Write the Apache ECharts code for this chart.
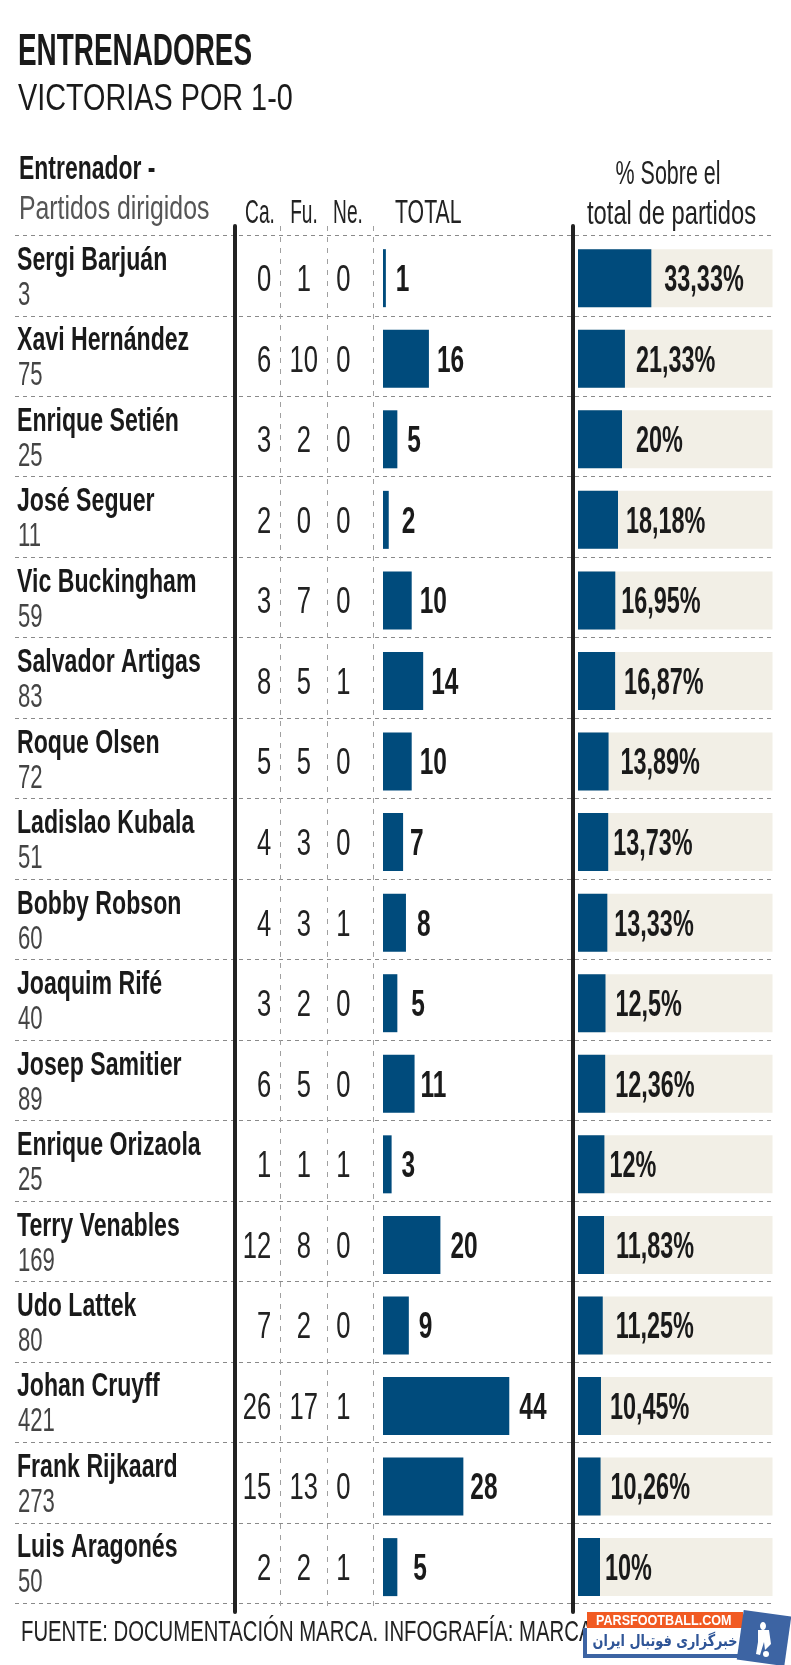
<!DOCTYPE html>
<html>
<head>
<meta charset="utf-8">
<title>Entrenadores - Victorias por 1-0</title>
<script src="https://cdn.jsdelivr.net/npm/echarts@6/dist/echarts.min.js"></script>
<style>
    html, body { margin: 0; padding: 0; background: #fff; }
    #grafiek { width: 791px; height: 1665px; }
</style>
</head>
<body>
<div id="grafiek"></div>
<script>
const entrenadores = ['Sergi Barjuán', 'Xavi Hernández', 'Enrique Setién', 'José Seguer', 'Vic Buckingham', 'Salvador Artigas', 'Roque Olsen', 'Ladislao Kubala', 'Bobby Robson', 'Joaquim Rifé', 'Josep Samitier', 'Enrique Orizaola', 'Terry Venables', 'Udo Lattek', 'Johan Cruyff', 'Frank Rijkaard', 'Luis Aragonés'];
const partidos = [3, 75, 25, 11, 59, 83, 72, 51, 60, 40, 89, 25, 169, 80, 421, 273, 50];
const columnas = ['Ca.', 'Fu.', 'Ne.'];
const casa = [0, 6, 3, 2, 3, 8, 5, 4, 4, 3, 6, 1, 12, 7, 26, 15, 2];
const fuera = [1, 10, 2, 0, 7, 5, 5, 3, 3, 2, 5, 1, 8, 2, 17, 13, 2];
const neutral = [0, 0, 0, 0, 0, 1, 0, 0, 1, 0, 0, 1, 0, 0, 1, 0, 1];
const total = [1, 16, 5, 2, 10, 14, 10, 7, 8, 5, 11, 3, 20, 9, 44, 28, 5];
const porcentaje = [33.33, 21.33, 20, 18.18, 16.95, 16.87, 13.89, 13.73, 13.33, 12.5, 12.36, 12, 11.83, 11.25, 10.45, 10.26, 10];

// distance between bar end and its label, the original is set by hand
const gapTotal = [10, 8, 10, 13, 8, 8, 8, 7, 11, 14, 6, 10, 10, 10, 10, 7, 16];
const gapPct = [13, 11, 14, 8, 6, 9, 12, 5, 7, 10, 10, 5, 12, 13, 9, 10, 5];

const AZUL = '#004b7c';
const CREMA = '#f2efe6';
const NEGRO = '#222';
const FONT = '"Liberation Sans"';

// the original font is very condensed, so every text is squeezed with scaleX
function texto(x, y, text, size, scaleX, weight, fill, align) {
    return {
        type: 'text',
        x: x,
        y: y,
        scaleX: scaleX,
        silent: true,
        style: {
            text: text,
            fontFamily: FONT,
            fontSize: size,
            fontWeight: weight || 'normal',
            fill: fill || NEGRO,
            align: align || 'left',
            verticalAlign: 'middle'
        }
    };
}

function serieTexto(grid, renderItem) {
    return {
        type: 'custom',
        xAxisIndex: grid,
        yAxisIndex: grid,
        silent: true,
        z: 5,
        data: entrenadores.map((n, i) => [0, i]),
        renderItem: renderItem
    };
}

function filaEje(grid) {
    return { type: 'category', gridIndex: grid, inverse: true, data: entrenadores, show: false };
}

function valorEje(grid, max) {
    return { type: 'value', gridIndex: grid, min: 0, max: max, show: false };
}

const lineaNegra = { show: true, lineStyle: { color: NEGRO, width: 4 } };
const raya = { color: '#8a8a8a', width: 1, type: [4, 4] };

let grafiek = echarts.init(document.getElementById('grafiek'));
let option = {
    backgroundColor: '#fff',
    animation: false,
    grid: [
        { left: 15, top: 235.3, width: 757, height: 1368 },      // rows + names
        { left: 234.6, top: 226, width: 138.4, height: 1386 },   // column rules
        { left: 572.6, top: 226, width: 200, height: 1386 },     // second thick rule
        { left: 234.6, top: 237.9, width: 138.4, height: 1369.5 }, // Ca. Fu. Ne.
        { left: 383, top: 237.9, width: 172.2, height: 1369.5 }, // total bars
        { left: 578, top: 237.9, width: 194.5, height: 1369.5 }  // % bars
    ],
    xAxis: [
        { type: 'value', gridIndex: 0, min: 0, max: 1, show: false },
        {
            type: 'category', gridIndex: 1, data: columnas,
            axisLine: { show: false }, axisTick: { show: false }, axisLabel: { show: false },
            splitLine: { show: true, showMinLine: false, lineStyle: { color: '#a0a0a0', width: 1, type: [5, 6] } }
        },
        valorEje(2, 1),
        { type: 'category', gridIndex: 3, data: columnas, show: false },
        valorEje(4, 60),
        valorEje(5, 88.4)
    ],
    yAxis: [
        {
            type: 'category', gridIndex: 0, inverse: true, data: entrenadores,
            axisLine: { show: false }, axisTick: { show: false }, axisLabel: { show: false },
            splitArea: { show: false },
            splitLine: { show: true, lineStyle: raya }
        },
        {
            type: 'value', gridIndex: 1, min: 0, max: 1, axisLine: lineaNegra,
            axisTick: { show: false }, axisLabel: { show: false }, splitLine: { show: false }, z: 6
        },
        {
            type: 'value', gridIndex: 2, min: 0, max: 1, axisLine: lineaNegra,
            axisTick: { show: false }, axisLabel: { show: false }, splitLine: { show: false }, z: 6
        },
        filaEje(3),
        filaEje(4),
        filaEje(5)
    ],
    series: [
        // dummy series so the rule grids get drawn
        { type: 'line', xAxisIndex: 1, yAxisIndex: 1, data: [], silent: true },
        { type: 'line', xAxisIndex: 2, yAxisIndex: 2, data: [], silent: true },
        {
            name: 'Total',
            type: 'bar',
            xAxisIndex: 4,
            yAxisIndex: 4,
            barWidth: 58,
            silent: true,
            itemStyle: { color: AZUL },
            data: total
        },
        {
            name: '% sobre el total de partidos',
            type: 'bar',
            xAxisIndex: 5,
            yAxisIndex: 5,
            barWidth: 58,
            silent: true,
            itemStyle: { color: AZUL },
            showBackground: true,
            backgroundStyle: { color: CREMA },
            data: porcentaje
        },
        // names and matches
        serieTexto(0, function (params, api) {
            let i = params.dataIndex;
            let p = api.coord([0, i]);
            return {
                type: 'group',
                children: [
                    texto(p[0] + 2, p[1] - 15, entrenadores[i], 34, 0.68, 'bold', '#1a1a1a'),
                    texto(p[0] + 3, p[1] + 20, String(partidos[i]), 34, 0.65, 'normal', '#444')
                ]
            };
        }),
        // Ca. Fu. Ne.
        serieTexto(3, function (params, api) {
            let i = params.dataIndex;
            let a = api.coord([0, i]);
            let b = api.coord([1, i]);
            let c = api.coord([2, i]);
            return {
                type: 'group',
                children: [
                    texto(a[0] + 13.5, a[1] + 3, String(casa[i]), 36, 0.71, 'normal', NEGRO, 'right'),
                    texto(b[0], b[1] + 3, String(fuera[i]), 36, 0.71, 'normal', NEGRO, 'center'),
                    texto(c[0] - 6.5, c[1] + 3, String(neutral[i]), 36, 0.71, 'normal', NEGRO, 'center')
                ]
            };
        }),
        // total label
        serieTexto(4, function (params, api) {
            let i = params.dataIndex;
            let p = api.coord([total[i], i]);
            return texto(p[0] + gapTotal[i], p[1] + 3, String(total[i]), 36, 0.68, 'bold', '#1a1a1a');
        }),
        // % label
        serieTexto(5, function (params, api) {
            let i = params.dataIndex;
            let p = api.coord([porcentaje[i], i]);
            let t = String(porcentaje[i]).replace('.', ',') + '%';
            return texto(p[0] + gapPct[i], p[1] + 3, t, 36, 0.65, 'bold', '#1a1a1a');
        })
    ],
    graphic: [
        texto(18, 53, 'ENTRENADORES', 45, 0.62, 'bold', '#1a1a1a'),
        texto(18, 100, 'VICTORIAS POR 1-0', 36, 0.8, 'normal', '#1a1a1a'),
        texto(19, 170, 'Entrenador -', 34, 0.675, 'bold', '#1a1a1a'),
        texto(19, 210, 'Partidos dirigidos', 34, 0.73, 'normal', '#555'),
        texto(260, 214, columnas[0], 33, 0.58, 'normal', NEGRO, 'center'),
        texto(304, 214, columnas[1], 33, 0.58, 'normal', NEGRO, 'center'),
        texto(348, 214, columnas[2], 33, 0.58, 'normal', NEGRO, 'center'),
        texto(395, 214, 'TOTAL', 33, 0.645, 'normal', NEGRO),
        texto(668, 175, '% Sobre el', 33, 0.65, 'normal', NEGRO, 'center'),
        texto(671.5, 215, 'total de partidos', 33, 0.72, 'normal', NEGRO, 'center'),
        texto(21, 1633, 'FUENTE: DOCUMENTACIÓN MARCA. INFOGRAFÍA: MARCA', 29, 0.7, 'normal', NEGRO),
        // parsfootball stamp on top of the picture
        {
            type: 'group',
            z: 100,
            children: [
                { type: 'rect', shape: { x: 583, y: 1628, width: 162, height: 30 }, style: { fill: '#3d64a3' } },
                { type: 'rect', shape: { x: 587, y: 1627, width: 156, height: 27 }, style: { fill: '#fff' } },
                { type: 'rect', shape: { x: 587, y: 1612, width: 156, height: 16 }, style: { fill: '#f15a22' } },
                texto(596, 1621, 'PARSFOOTBALL.COM', 14, 0.9, 'bold', '#fff'),
                {
                    type: 'text', x: 665, y: 1642, scaleX: 0.8, silent: true,
                    style: { text: 'خبرگزاری فوتبال ایران', fontFamily: '"DejaVu Sans"', fontSize: 16, fontWeight: 'bold', fill: '#2f5597', align: 'center', verticalAlign: 'middle' }
                },
                {
                    type: 'rect', x: 764, y: 1638, originX: 0, originY: 0, rotation: -0.14,
                    shape: { x: -24, y: -25, width: 48, height: 50 }, style: { fill: '#3d64a3' }
                },
                { type: 'ellipse', shape: { cx: 763, cy: 1626, rx: 3, ry: 4 }, style: { fill: '#fff' } },
                { type: 'polygon', shape: { points: [[758, 1630], [769, 1630], [771, 1644], [765, 1650], [764, 1642], [760, 1655], [756, 1654], [758, 1642]] }, style: { fill: '#fff' } },
                { type: 'circle', shape: { cx: 766, cy: 1654, r: 3 }, style: { fill: '#fff' } }
            ]
        }
    ]
};
grafiek.setOption(option);
</script>
</body>
</html>
